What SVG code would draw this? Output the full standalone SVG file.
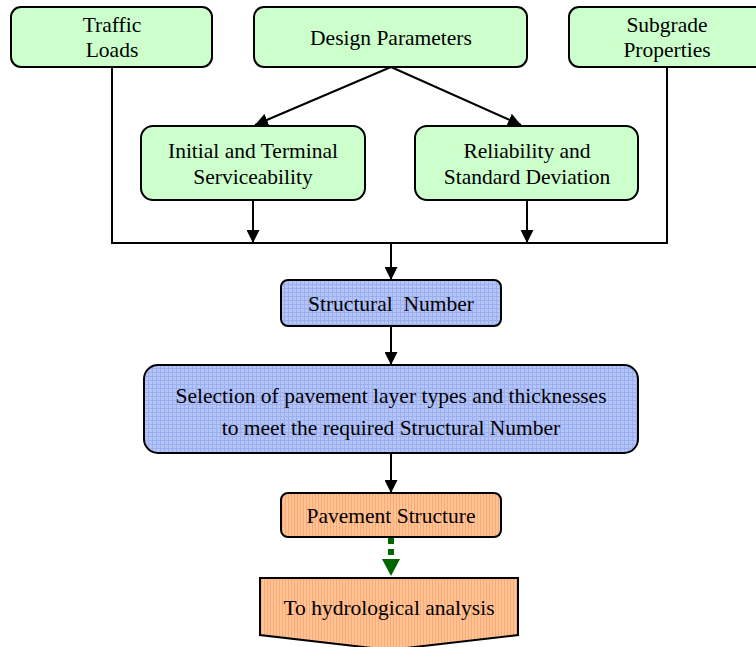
<svg xmlns="http://www.w3.org/2000/svg" width="756" height="647" viewBox="0 0 756 647">
<style>
.t{font-family:"Liberation Serif","Times New Roman",serif;font-size:21.5px;fill:#000;text-anchor:middle}
.g{fill:#ccffcc;stroke:#000;stroke-width:2}
.b{fill:url(#grid);stroke:#000;stroke-width:2}
.o{fill:url(#stripe);stroke:#000;stroke-width:2}
.c{fill:none;stroke:#000;stroke-width:2}
</style>
<defs>
<pattern id="grid" width="4" height="4" patternUnits="userSpaceOnUse">
<rect width="4" height="4" fill="#b6c5f8"/>
<path d="M0 0.5H4M0.5 0V4" stroke="#9aaef0" stroke-width="1"/>
</pattern>
<pattern id="stripe" width="3" height="4" patternUnits="userSpaceOnUse">
<rect width="3" height="4" fill="#ffc496"/>
<rect x="0" width="1" height="4" fill="#ffa874"/>
</pattern>
<marker id="ah" viewBox="0 0 10 10" refX="10" refY="5" markerWidth="13" markerHeight="13" markerUnits="userSpaceOnUse" orient="auto">
<path d="M0 0L10 5L0 10z" fill="#000"/>
</marker>
</defs>
<g id="connectors">
<polyline class="c" points="112,67 112,243 667,243 667,67"/>
<line class="c" x1="391" y1="67" x2="255" y2="125" marker-end="url(#ah)"/>
<line class="c" x1="391" y1="67" x2="521" y2="125" marker-end="url(#ah)"/>
<line class="c" x1="253" y1="200" x2="253" y2="243" marker-end="url(#ah)"/>
<line class="c" x1="527" y1="200" x2="527" y2="243" marker-end="url(#ah)"/>
<line class="c" x1="391" y1="243" x2="391" y2="280" marker-end="url(#ah)"/>
<line class="c" x1="391" y1="326" x2="391" y2="365" marker-end="url(#ah)"/>
<line class="c" x1="391" y1="453" x2="391" y2="493" marker-end="url(#ah)"/>
<line x1="391" y1="538" x2="391" y2="559" stroke="#006600" stroke-width="6" stroke-dasharray="6,5"/>
<path d="M382 559L400 559L391 576z" fill="#006600"/>
</g>
<g id="traffic">
<rect class="g" x="11" y="7" width="201" height="60" rx="10"/>
<text class="t" x="112" y="32">Traffic</text>
<text class="t" x="112" y="57">Loads</text>
</g>
<g id="design">
<rect class="g" x="254" y="7" width="273" height="60" rx="10"/>
<text class="t" x="391" y="45">Design Parameters</text>
</g>
<g id="subgrade">
<rect class="g" x="569" y="7" width="200" height="60" rx="10"/>
<text class="t" x="667" y="32">Subgrade</text>
<text class="t" x="667" y="57">Properties</text>
</g>
<g id="serviceability">
<rect class="g" x="141" y="126" width="224" height="74" rx="12"/>
<text class="t" x="253" y="158">Initial and Terminal</text>
<text class="t" x="253" y="184">Serviceability</text>
</g>
<g id="reliability">
<rect class="g" x="415" y="126" width="223" height="74" rx="12"/>
<text class="t" x="527" y="158">Reliability and</text>
<text class="t" x="527" y="184">Standard Deviation</text>
</g>
<g id="structural">
<rect class="b" x="281" y="280" width="220" height="46" rx="7"/>
<text class="t" x="391" y="311" xml:space="preserve">Structural  Number</text>
</g>
<g id="selection">
<rect class="b" x="144" y="365" width="494" height="88" rx="14"/>
<text class="t" x="391" y="403">Selection of pavement layer types and thicknesses</text>
<text class="t" x="391" y="435">to meet the required Structural Number</text>
</g>
<g id="pavement">
<rect class="o" x="281" y="493" width="220" height="44" rx="7"/>
<text class="t" x="391" y="523">Pavement Structure</text>
</g>
<g id="hydro">
<path class="o" d="M260 578H518V635L389 650L260 635z"/>
<text class="t" x="389" y="615">To hydrological analysis</text>
</g>
</svg>
